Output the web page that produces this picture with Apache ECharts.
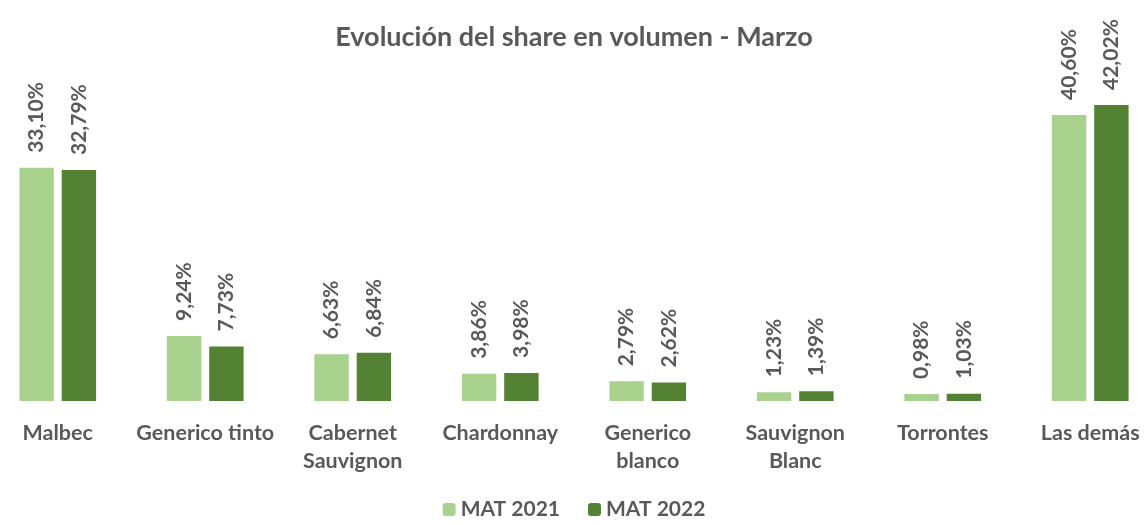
<!DOCTYPE html>
<html><head><meta charset="utf-8">
<script src="https://cdn.jsdelivr.net/npm/echarts@6/dist/echarts.min.js"></script>
<style>html,body{margin:0;padding:0;background:#fff}#c{width:1148px;height:525px}</style>
</head><body><div id="c"></div>
<script>
const categories = ["Malbec", "Generico tinto", "Cabernet\nSauvignon", "Chardonnay", "Generico\nblanco", "Sauvignon\nBlanc", "Torrontes", "Las demás"];
const mat2021 = [33.10, 9.24, 6.63, 3.86, 2.79, 1.23, 0.98, 40.60];
const mat2022 = [32.79, 7.73, 6.84, 3.98, 2.62, 1.39, 1.03, 42.02];
const seriesNames = ["MAT 2021", "MAT 2022"];

const fmt = p => p.value.toFixed(2).replace('.', ',') + '%';
const labelStyle = {
  show: true, position: 'top', rotate: 90, align: 'left', verticalAlign: 'middle',
  distance: 15, color: '#595959', fontFamily: 'Lato', fontWeight: 'bold', fontSize: 21,
  formatter: fmt
};
const chart = echarts.init(document.getElementById('c'));
chart.setOption({
  animation: false,
  title: { text: 'Evolución del share en volumen - Marzo', left: 'center', top: 19,
    textStyle: { color: '#595959', fontFamily: 'Lato', fontWeight: 'bold', fontSize: 27 } },
  legend: { data: seriesNames, bottom: 0, left: 'center', itemWidth: 13, itemHeight: 13, itemGap: 28,
    textStyle: { color: '#595959', fontFamily: 'Lato', fontWeight: 'bold', fontSize: 21 } },
  grid: { left: -16, width: 1180, top: 84, height: 317, outerBoundsMode: 'none', containLabel: false },
  xAxis: { type: 'category', data: categories,
    axisLine: { show: false }, axisTick: { show: false },
    axisLabel: { color: '#595959', fontFamily: 'Lato', fontWeight: 'bold', fontSize: 21.5, margin: 18, lineHeight: 28, interval: 0 } },
  yAxis: { type: 'value', min: 0, max: 45, show: false, splitLine: { show: false } },
  series: [
    { name: seriesNames[0], type: 'bar', data: mat2021, itemStyle: { color: '#a9d18e' },
      barGap: '23%', barCategoryGap: '48%', label: labelStyle },
    { name: seriesNames[1], type: 'bar', data: mat2022, itemStyle: { color: '#548235' },
      label: labelStyle }
  ]
});
</script></body></html>
